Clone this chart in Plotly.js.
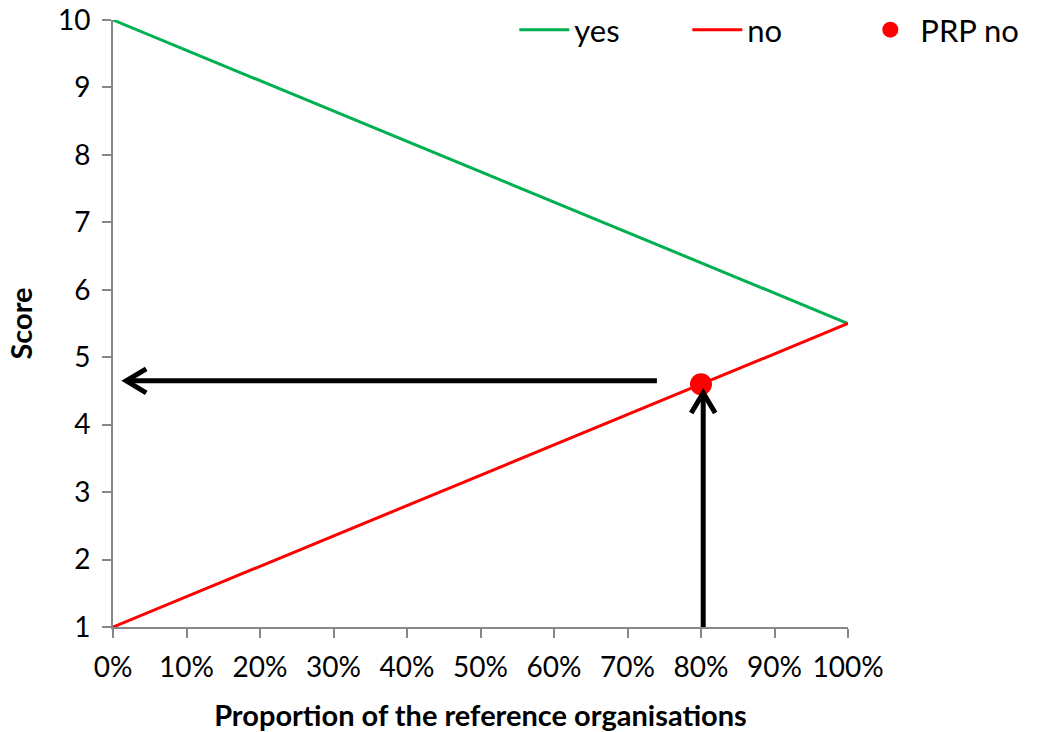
<!DOCTYPE html>
<html>
<head>
<meta charset="utf-8">
<script src="https://cdn.plot.ly/plotly-3.0.1.min.js"></script>
<style>html,body{margin:0;padding:0;background:#fff;}#chart{width:1037px;height:732px;}</style>
</head>
<body>
<div id="chart"></div>
<script>
// Data
const proportion = [0, 1];
const yesScore = [10, 5.5];
const noScore = [1, 5.5];
const prpX = [0.8];
const prpY = [4.6];
// Arrows: [tailX, tailY, headX, headY]
const arrowH = [0.74, 4.65, 0.018, 4.65];
const arrowV = [0.803, 1.0, 0.803, 4.47];

const font = "Lato, 'Open Sans', sans-serif";

const traces = [
  {x: proportion, y: yesScore, type: 'scatter', mode: 'lines', name: 'yes',
   line: {color: '#00B050', width: 3}},
  {x: proportion, y: noScore, type: 'scatter', mode: 'lines', name: 'no',
   line: {color: '#FF0000', width: 3}},
  {x: prpX, y: prpY, type: 'scatter', mode: 'markers', name: 'PRP no',
   marker: {color: '#FF0000', size: 22}}
];

function shaft(a) {
  return {type: 'line', xref: 'x', yref: 'y', x0: a[0], y0: a[1], x1: a[2], y1: a[3],
    line: {color: '#000', width: 5}, layer: 'above'};
}
function head(a, path) {
  return {type: 'path', xref: 'x', yref: 'y', xsizemode: 'pixel', ysizemode: 'pixel',
    xanchor: a[2], yanchor: a[3], path: path, line: {color: '#000', width: 5}, layer: 'above'};
}

const layout = {
  width: 1037, height: 732,
  margin: {l: 113, r: 189, t: 20, b: 105, autoexpand: false},
  paper_bgcolor: '#fff', plot_bgcolor: '#fff',
  font: {family: font, size: 28, color: '#000'},
  showlegend: true,
  legend: {orientation: 'h', x: 0.546, y: 1.028, xanchor: 'left', yanchor: 'top',
    font: {family: font, size: 31, color: '#000'}, entrywidth: 108, itemwidth: 50,
    bgcolor: 'rgba(0,0,0,0)'},
  xaxis: {range: [0, 1], tickvals: [0,0.1,0.2,0.3,0.4,0.5,0.6,0.7,0.8,0.9,1], tickformat: '.0%',
    showgrid: false, zeroline: false, showline: true, linecolor: '#868686', linewidth: 2,
    ticks: 'outside', ticklen: 9, tickwidth: 2, tickcolor: '#868686', ticklabelstandoff: 5,
    tickfont: {family: font, size: 28, color: '#000'},
    title: {text: '<b>Proportion of the reference organisations</b>', font: {family: font, size: 29, color: '#000'}, standoff: 26}},
  yaxis: {range: [1, 10], dtick: 1, showgrid: false, zeroline: false, showline: true,
    linecolor: '#868686', linewidth: 2, ticks: 'outside', ticklen: 9, tickwidth: 2, tickcolor: '#868686', ticklabelstandoff: 6,
    tickfont: {family: font, size: 28, color: '#000'},
    title: {text: '<b>Score</b>', font: {family: font, size: 29, color: '#000'}, standoff: 17}},
  shapes: [
    shaft(arrowH), head(arrowH, 'M 20 12 L 0 0 L 20 -12'),
    shaft(arrowV), head(arrowV, 'M -12 -20 L 0 0 L 12 -20')
  ]
};

Plotly.newPlot('chart', traces, layout, {displayModeBar: false});
</script>
</body>
</html>
